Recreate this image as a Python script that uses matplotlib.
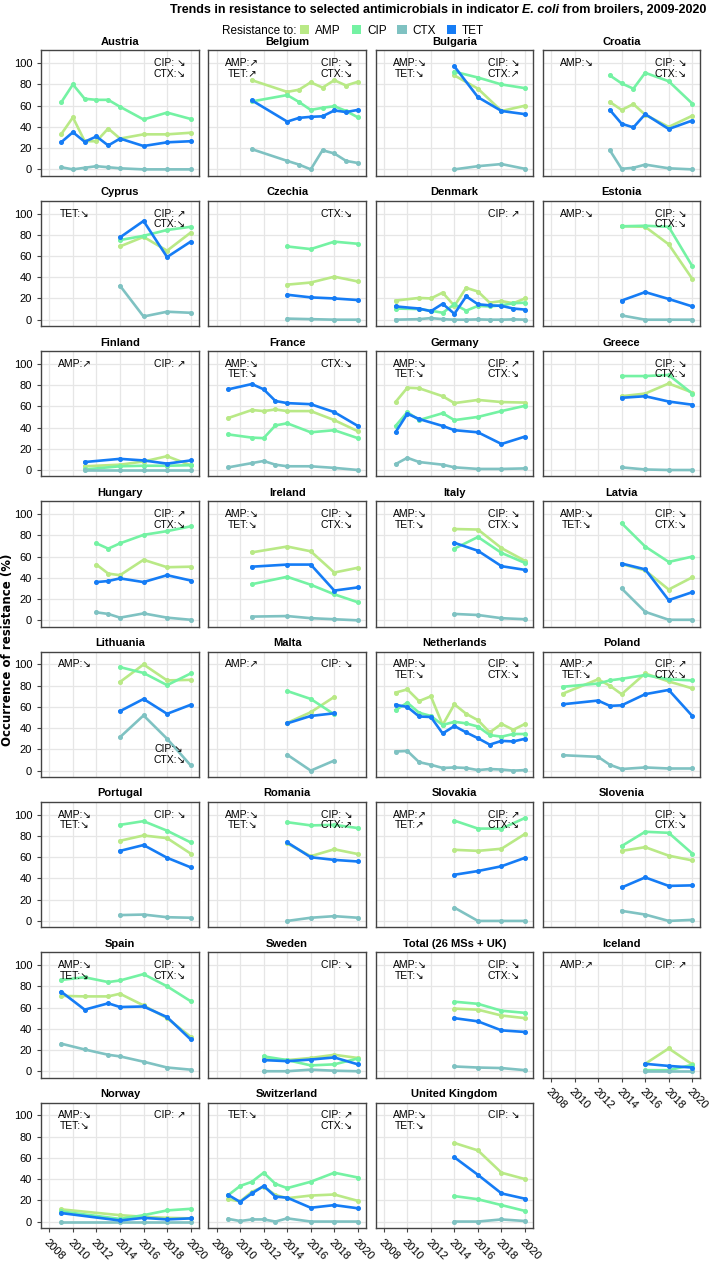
import matplotlib
matplotlib.use("Agg")
import matplotlib.pyplot as plt
from matplotlib.patches import Patch

# Datos (porcentaje de resistencia)
COUNTRIES = ["Austria", "Belgium", "Bulgaria", "Croatia",
             "Cyprus", "Czechia", "Denmark", "Estonia",
             "Finland", "France", "Germany", "Greece",
             "Hungary", "Ireland", "Italy", "Latvia",
             "Lithuania", "Malta", "Netherlands", "Poland",
             "Portugal", "Romania", "Slovakia", "Slovenia",
             "Spain", "Sweden", "Total (26 MSs + UK)", "Iceland",
             "Norway", "Switzerland", "United Kingdom"]

EVEN = [2014, 2016, 2018, 2020]

YEARS = {
    "Austria": [2009, 2010, 2011, 2012, 2013, 2014, 2016, 2018, 2020],
    "Belgium": [2011, 2014, 2015, 2016, 2017, 2018, 2019, 2020],
    "Bulgaria": EVEN,
    "Croatia": [2013, 2014, 2015, 2016, 2018, 2020],
    "Cyprus": EVEN,
    "Czechia": EVEN,
    "Denmark": [2009, 2011, 2012, 2013, 2014, 2015, 2016, 2017, 2018, 2019, 2020],
    "Estonia": EVEN,
    "Finland": [2011, 2014, 2016, 2018, 2020],
    "France": [2009, 2011, 2012, 2013, 2014, 2016, 2018, 2020],
    "Germany": [2009, 2010, 2011, 2013, 2014, 2016, 2018, 2020],
    "Greece": EVEN,
    "Hungary": [2012, 2013, 2014, 2016, 2018, 2020],
    "Ireland": [2011, 2014, 2016, 2018, 2020],
    "Italy": EVEN,
    "Latvia": EVEN,
    "Lithuania": EVEN,
    "Malta": [2014, 2016, 2018],
    "Netherlands": list(range(2009, 2021)),
    "Poland": [2009, 2012, 2013, 2014, 2016, 2018, 2020],
    "Portugal": EVEN,
    "Romania": EVEN,
    "Slovakia": EVEN,
    "Slovenia": EVEN,
    "Spain": [2009, 2011, 2013, 2014, 2016, 2018, 2020],
    "Sweden": [2012, 2014, 2016, 2018, 2020],
    "Total (26 MSs + UK)": EVEN,
    "Iceland": [2016, 2018, 2020],
    "Norway": [2009, 2014, 2016, 2018, 2020],
    "Switzerland": [2009, 2010, 2011, 2012, 2013, 2014, 2016, 2018, 2020],
    "United Kingdom": EVEN,
}

AMP = {
    "Austria": [33, 49, 26.5, 26.5, 38.5, 29, 33, 33, 34.5],
    "Belgium": [84, 73, 75, 82, 77, 84, 79, 82.5],
    "Bulgaria": [88.5, 76, 55, 60],
    "Croatia": [63.5, 56, 61.5, 51.5, 40, 50.5],
    "Cyprus": [69, 78, 65, 82],
    "Czechia": [33, 35, 40.5, 36],
    "Denmark": [18, 20.5, 20, 25.5, 13, 30, 26.5, 16, 17.5, 15.5, 20],
    "Estonia": [88, 87.5, 71, 38.5],
    "Finland": [3.5, 5, 8, 13, 4.5],
    "France": [49, 56.5, 55.5, 57, 55.5, 55.5, 47, 36.5],
    "Germany": [64, 77.5, 77, 69.5, 63, 66, 64, 63.5],
    "Greece": [69.5, 72, 81.5, 73],
    "Hungary": [52.5, 44, 42.5, 57, 50, 50.5],
    "Ireland": [64, 69.5, 65, 45, 49.5],
    "Italy": [86, 85.5, 68, 56],
    "Latvia": [53, 47, 29, 40.5],
    "Lithuania": [83.5, 100, 85, 85.5],
    "Malta": [45, 55, 69.5],
    "Netherlands": [73.5, 76.5, 65.5, 70, 43, 62.5, 53.5, 47.5, 36, 44, 38.5, 44],
    "Poland": [72.5, 86, 80, 72, 91.5, 84, 77.5],
    "Portugal": [75.5, 80.5, 78, 63.5],
    "Romania": [73, 61, 67.5, 63],
    "Slovakia": [67, 66, 68, 82],
    "Slovenia": [66, 69.5, 61.5, 57],
    "Spain": [71, 70.5, 70.5, 73, 62, 50, 32.5],
    "Sweden": [12, 10.5, 12.5, 15.5, 12.5],
    "Total (26 MSs + UK)": [59, 58, 52.5, 50],
    "Iceland": [7, 21.5, 6.5],
    "Norway": [11.5, 6, 4.5, 3.5, 3],
    "Switzerland": [21, 19, 28, 33, 25, 22, 24.5, 25.5, 19.5],
    "United Kingdom": [74, 67, 46, 40],
}

CIP = {
    "Austria": [63, 80, 66.5, 65.5, 65.5, 59, 47, 53.5, 47.5],
    "Belgium": [64, 70, 63.5, 56, 58, 59.5, 55, 49],
    "Bulgaria": [92, 86.5, 80, 76.5],
    "Croatia": [88.5, 81, 76, 91, 83, 62],
    "Cyprus": [75, 79, 84.5, 87.5],
    "Czechia": [69, 66.5, 73.5, 71.5],
    "Denmark": [10.5, 10, 8.5, 6.5, 14.5, 8.5, 13, 12.5, 13.5, 15.5, 16],
    "Estonia": [88, 88.5, 87.5, 50.5],
    "Finland": [0.5, 3.5, 4, 4, 4.5],
    "France": [33.5, 30.5, 30, 42, 44, 35.5, 37.5, 30],
    "Germany": [41.5, 54.5, 47, 53.5, 47, 50, 55.5, 60.5],
    "Greece": [88.5, 88.5, 89.5, 72],
    "Hungary": [72.5, 67.5, 72.5, 80.5, 84, 88.5],
    "Ireland": [34, 41, 33.5, 24.5, 17],
    "Italy": [67.5, 78.5, 63.5, 54],
    "Latvia": [91.5, 69.5, 55, 60],
    "Lithuania": [97.5, 92, 80.5, 91.5],
    "Malta": [75, 67.5, 53],
    "Netherlands": [57, 64, 54.5, 51.5, 43, 46, 44.5, 41.5, 33.5, 32, 34.5, 34.5],
    "Poland": [79, 82, 85, 86.5, 90, 86, 85],
    "Portugal": [90.5, 94, 85, 74],
    "Romania": [93, 90, 90.5, 87.5],
    "Slovakia": [94.5, 87, 87, 97],
    "Slovenia": [70.5, 84, 83, 63.5],
    "Spain": [86, 88.5, 84, 85.5, 91.5, 80, 66],
    "Sweden": [14, 10.5, 5.5, 6.5, 12],
    "Total (26 MSs + UK)": [65.5, 63.5, 57, 55],
    "Iceland": [1, 1, 6],
    "Norway": [9.5, 2.5, 6, 10.5, 12],
    "Switzerland": [25, 33.5, 37.5, 46, 35.5, 31.5, 37.5, 46, 41.5],
    "United Kingdom": [24, 21, 15.5, 10],
}

CTX = {
    "Austria": [2, 0, 1.5, 3, 2, 1, 0, 0, 0],
    "Belgium": [19, 8, 4.5, 0, 18, 15, 8, 6],
    "Bulgaria": [0, 3, 5, 0.5],
    "Croatia": [18, 0.5, 1.5, 4.5, 1, 0],
    "Cyprus": [32, 3, 7.5, 6.5],
    "Czechia": [1, 0.5, 0, 0],
    "Denmark": [0, 0.5, 1.5, 0.5, 0, 0, 0.3, 0, 0, 0.3, 0],
    "Estonia": [4, 0, 0, 0],
    "Finland": [0, 0, 0, 0, 0],
    "France": [2.5, 6.5, 8.5, 5, 3.5, 3.5, 2, 0],
    "Germany": [5.5, 11.5, 7.5, 5, 2.5, 1, 1, 1.5],
    "Greece": [2.5, 0.5, 0, 0],
    "Hungary": [7.5, 6, 2.5, 6.5, 2.5, 0.5],
    "Ireland": [3.5, 4, 2, 1, 0],
    "Italy": [6, 5, 2, 1],
    "Latvia": [30, 8, 0.5, 0.5],
    "Lithuania": [31.5, 52, 30, 5],
    "Malta": [15, 0, 9.5],
    "Netherlands": [18, 18.5, 8, 5.5, 2.5, 3, 2.5, 0.5, 1.5, 1, 0, 0.5],
    "Poland": [14.5, 13, 5.5, 1.5, 3, 2, 2],
    "Portugal": [5.5, 6, 3.5, 3],
    "Romania": [0, 3, 4.5, 3],
    "Slovakia": [12.5, 0, 0, 0],
    "Slovenia": [9.5, 6, 0, 1],
    "Spain": [26, 20.5, 15.5, 14, 9, 3.5, 1.5],
    "Sweden": [0, 0, 1.5, 0.5, 0],
    "Total (26 MSs + UK)": [4.5, 3.5, 3, 1],
    "Iceland": [0, 0, 0],
    "Norway": [0, 0, 0, 0, 0],
    "Switzerland": [2.5, 0.5, 2, 2, 0, 3, 0, 0, 0],
    "United Kingdom": [0, 0, 2, 0.5],
}

TET = {
    "Austria": [25.5, 35, 26, 31, 22.5, 29, 22, 25.5, 26.5],
    "Belgium": [65, 45, 48.5, 49.5, 50, 55.5, 54, 56],
    "Bulgaria": [97, 68, 55, 52],
    "Croatia": [56, 43, 39.5, 52, 38, 46],
    "Cyprus": [77.5, 93, 59, 73.5],
    "Czechia": [23.5, 21, 20, 18.5],
    "Denmark": [12.5, 10.5, 8, 15, 5.5, 22, 14.5, 13.5, 13, 10.5, 9.5],
    "Estonia": [18, 26, 19.5, 12.5],
    "Finland": [7.5, 10.5, 9, 6, 9],
    "France": [76, 81, 76, 65, 63, 62, 54.5, 41.5],
    "Germany": [35.5, 53, 48, 41.5, 37.5, 35.5, 24.5, 31.5],
    "Greece": [68, 69.5, 64.5, 61.5],
    "Hungary": [36, 37, 39.5, 36, 42.5, 37.5],
    "Ireland": [50.5, 52.5, 52.5, 28, 31],
    "Italy": [73, 65.5, 51, 47.5],
    "Latvia": [53.5, 48, 19, 26.5],
    "Lithuania": [56, 67.5, 53.5, 62],
    "Malta": [44.5, 51.5, 54],
    "Netherlands": [62, 60, 51, 50.5, 35, 42, 36, 30.5, 24.5, 28, 27.5, 30],
    "Poland": [62.5, 66, 61, 61.5, 72, 76, 51.5],
    "Portugal": [66, 71.5, 59.5, 50.5],
    "Romania": [74, 60, 57.5, 56],
    "Slovakia": [43.5, 47, 51.5, 59.5],
    "Slovenia": [31.5, 41, 33, 33.5],
    "Spain": [75, 58, 64, 60.5, 61, 51, 30],
    "Sweden": [10.5, 9.5, 11, 13, 6.5],
    "Total (26 MSs + UK)": [50, 47, 38.5, 37],
    "Iceland": [7, 5, 3.5],
    "Norway": [8, 1, 3.5, 2, 3],
    "Switzerland": [25, 18.5, 26.5, 33.5, 23.5, 22.5, 13, 15.5, 12.5],
    "United Kingdom": [60.5, 44, 26.5, 21.5],
}

# Tendencias significativas (texto de cada panel)
TREND_LEFT = {
    "Belgium": ["AMP:↗", "TET:↗"], "Bulgaria": ["AMP:↘", "TET:↘"],
    "Croatia": ["AMP:↘"], "Cyprus": ["TET:↘"], "Estonia": ["AMP:↘"],
    "Finland": ["AMP:↗"], "France": ["AMP:↘", "TET:↘"],
    "Germany": ["AMP:↘", "TET:↘"], "Ireland": ["AMP:↘", "TET:↘"],
    "Italy": ["AMP:↘", "TET:↘"], "Latvia": ["AMP:↘", "TET:↘"],
    "Lithuania": ["AMP:↘"], "Malta": ["AMP:↗"],
    "Netherlands": ["AMP:↘", "TET:↘"], "Poland": ["AMP:↗", "TET:↘"],
    "Portugal": ["AMP:↘", "TET:↘"], "Romania": ["AMP:↘", "TET:↘"],
    "Slovakia": ["AMP:↗", "TET:↗"], "Spain": ["AMP:↘", "TET:↘"],
    "Total (26 MSs + UK)": ["AMP:↘", "TET:↘"], "Iceland": ["AMP:↗"],
    "Norway": ["AMP:↘", "TET:↘"], "Switzerland": ["TET:↘"],
    "United Kingdom": ["AMP:↘", "TET:↘"],
}
TREND_RIGHT = {
    "Austria": ["CIP: ↘", "CTX:↘"], "Belgium": ["CIP: ↘", "CTX:↘"],
    "Bulgaria": ["CIP: ↘", "CTX:↗"], "Croatia": ["CIP: ↘", "CTX:↘"],
    "Cyprus": ["CIP: ↗", "CTX:↘"], "Czechia": ["CTX:↘"],
    "Denmark": ["CIP: ↗"], "Estonia": ["CIP: ↘", "CTX:↘"],
    "Finland": ["CIP: ↗"], "France": ["CTX:↘"],
    "Germany": ["CIP: ↗", "CTX:↘"], "Greece": ["CIP: ↘", "CTX:↘"],
    "Hungary": ["CIP: ↗", "CTX:↘"], "Ireland": ["CIP: ↘", "CTX:↘"],
    "Italy": ["CIP: ↘", "CTX:↘"], "Latvia": ["CIP: ↘", "CTX:↘"],
    "Malta": ["CIP: ↘"], "Netherlands": ["CIP: ↘", "CTX:↘"],
    "Poland": ["CIP: ↗", "CTX:↘"], "Portugal": ["CIP: ↘"],
    "Romania": ["CIP: ↘", "CTX:↗"], "Slovakia": ["CIP: ↗", "CTX:↘"],
    "Slovenia": ["CIP: ↘", "CTX:↘"], "Spain": ["CIP: ↘", "CTX:↘"],
    "Sweden": ["CIP: ↘"], "Total (26 MSs + UK)": ["CIP: ↘", "CTX:↘"],
    "Iceland": ["CIP: ↗"], "Norway": ["CIP: ↗"],
    "Switzerland": ["CIP: ↗", "CTX:↘"], "United Kingdom": ["CIP: ↘"],
}
# En Lituania el texto de la derecha va abajo
TREND_RIGHT_LOW = {"Lithuania": ["CIP:↘", "CTX:↘"]}

SERIES = [("AMP", AMP, "#b9e986"), ("CIP", CIP, "#74f2a3"),
          ("CTX", CTX, "#7fc2c2"), ("TET", TET, "#157cf5")]

FONT = ["Liberation Sans Narrow", "Liberation Sans", "DejaVu Sans"]
plt.rcParams["font.family"] = FONT

fig, axes = plt.subplots(8, 4, figsize=(7.09, 12.62), dpi=100,
                         sharex=True, sharey=True)
fig.subplots_adjust(left=0.058, right=0.988, top=0.960, bottom=0.027,
                    wspace=0.06, hspace=0.2)

for i, ax in enumerate(axes.flat):
    if i >= len(COUNTRIES):
        ax.set_visible(False)
        continue
    pais = COUNTRIES[i]
    fila, col = divmod(i, 4)
    for nombre, datos, color in SERIES:
        ax.plot(YEARS[pais], datos[pais], color=color, lw=1.9,
                marker="o", ms=2.6, zorder=3)
    ax.set_xlim(2007.3, 2020.7)
    ax.set_ylim(-6, 112)
    ax.set_xticks(range(2008, 2021, 2))
    ax.set_yticks(range(0, 101, 20))
    ax.grid(True, color="#e6e6e6", lw=0.9, zorder=0)
    for s in ax.spines.values():
        s.set_color("#444444")
        s.set_linewidth(1.0)
    ax.set_title(pais, fontsize=8, fontweight="bold", pad=4)

    ultima = (fila == 7) or (fila == 6 and col == 3)
    ax.tick_params(axis="x", bottom=ultima, labelbottom=ultima,
                   length=3, color="#444444", labelsize=8)
    ax.tick_params(axis="y", left=(col == 0), labelleft=(col == 0),
                   length=3, color="#444444", labelsize=8)
    if ultima:
        for lab in ax.get_xticklabels():
            lab.set_rotation(-45)
            lab.set_ha("left")
            lab.set_va("top")
            lab.set_rotation_mode("anchor")

    for k, txt in enumerate(TREND_LEFT.get(pais, [])):
        ax.text(2010.2, 100 - 10 * k, txt, ha="center", va="center",
                fontsize=7.5, zorder=4)
    for k, txt in enumerate(TREND_RIGHT.get(pais, [])):
        ax.text(2018.2, 100 - 10 * k, txt, ha="center", va="center",
                fontsize=7.5, zorder=4)
    for k, txt in enumerate(TREND_RIGHT_LOW.get(pais, [])):
        ax.text(2018.2, 20 - 10 * k, txt, ha="center", va="center",
                fontsize=7.5, zorder=4)

fig.text(0.010, 1 - 650 / 1262, "Occurrence of resistance (%)", rotation=90,
         ha="center", va="center", fontsize=8.5, fontweight="bold",
         family="DejaVu Sans")

# Leyenda
fig.text(222 / 709, 1 - 31 / 1262, "Resistance to:", ha="left",
         va="center", fontsize=8.5)
handles = [Patch(facecolor=c, edgecolor="none", label=n) for n, _, c in SERIES]
fig.legend(handles=handles, loc="center left",
           bbox_to_anchor=(300 / 709, 1 - 31 / 1262), ncol=4, frameon=False,
           fontsize=8.5, handlelength=0.8, handleheight=0.8,
           handletextpad=0.5, columnspacing=0.9, borderpad=0, borderaxespad=0)

# Titulo con E. coli en cursiva, alineado a la derecha
fig.canvas.draw()
rend = fig.canvas.get_renderer()
partes = [(" from broilers, 2009-2020", "normal"), ("E. coli", "italic"),
          ("Trends in resistance to selected antimicrobials in indicator ", "normal")]
x_der = 0.997
for txt, estilo in partes:
    t = fig.text(x_der, 1 - 10 / 1262, txt, ha="right", va="center",
                 fontsize=9, fontweight="bold", style=estilo)
    bb = t.get_window_extent(renderer=rend)
    x_der -= bb.width / fig.bbox.width

fig.savefig("out.png", dpi=100)
